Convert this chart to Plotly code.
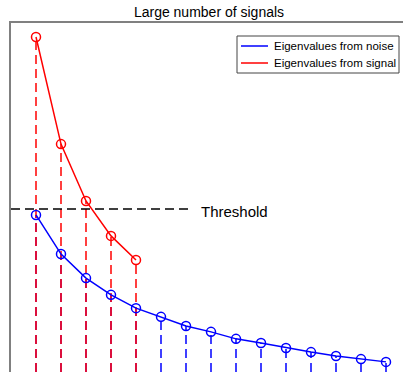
import plotly.graph_objects as go

# Eigenvalue index and sorted eigenvalues
idx_noise = list(range(1, 16))
eig_noise = [4.50, 3.38, 2.69, 2.21, 1.83, 1.58, 1.32, 1.15, 0.95, 0.83, 0.69, 0.57, 0.46, 0.37, 0.29]
idx_signal = [1, 2, 3, 4, 5]
eig_signal = [9.60, 6.53, 4.90, 3.90, 3.21]
threshold = 4.67
threshold_extent = [0, 7.08]
legend_labels = ["Eigenvalues from noise", "Eigenvalues from signal"]

y_min, y_max = 0, 10
x_min, x_max = 0, 15.68

BLUE = "#0000ff"
RED = "#ff0000"
OVERLAP = "#e0103e"
FONT = "Liberation Sans, Arial, Helvetica, sans-serif"
STEM_DASH = "9px,5px"

W, H = 403, 372
ML, MR, MT, MB = 11, 0, 23, 0
PW, PH = W - ML - MR, H - MT - MB


def px(x):
    return (x - ML) / PW


def py(y):
    return (H - MB - y) / PH


def stem_xy(xs, ys, base):
    sx, sy = [], []
    for x, y in zip(xs, ys):
        sx += [x, x, None]
        sy += [base, y, None]
    return sx, sy


fig = go.Figure()

# stems rise from the baseline so dashes line up across overlapping stems
sx, sy = stem_xy(idx_noise, eig_noise, y_min)
fig.add_trace(go.Scatter(x=sx, y=sy, mode="lines", showlegend=False, hoverinfo="skip",
                         line=dict(color=BLUE, width=1.5, dash=STEM_DASH)))
sx, sy = stem_xy(idx_signal, eig_signal, y_min)
fig.add_trace(go.Scatter(x=sx, y=sy, mode="lines", showlegend=False, hoverinfo="skip",
                         line=dict(color=RED, width=1.5, dash=STEM_DASH)))
sx, sy = stem_xy(idx_signal, eig_noise[:len(idx_signal)], y_min)
fig.add_trace(go.Scatter(x=sx, y=sy, mode="lines", showlegend=False, hoverinfo="skip",
                         line=dict(color=OVERLAP, width=1.5, dash=STEM_DASH)))

fig.add_trace(go.Scatter(x=threshold_extent, y=[threshold, threshold], mode="lines",
                         showlegend=False, hoverinfo="skip",
                         line=dict(color="black", width=1.5, dash="9px,5px")))

fig.add_trace(go.Scatter(x=idx_noise, y=eig_noise, mode="lines+markers",
                         name=legend_labels[0], showlegend=False,
                         line=dict(color=BLUE, width=1.5),
                         marker=dict(symbol="circle-open", size=9, color=BLUE,
                                     line=dict(color=BLUE, width=1.5))))
fig.add_trace(go.Scatter(x=idx_signal, y=eig_signal, mode="lines+markers",
                         name=legend_labels[1], showlegend=False,
                         line=dict(color=RED, width=1.5),
                         marker=dict(symbol="circle-open", size=9, color=RED,
                                     line=dict(color=RED, width=1.5))))

fig.add_annotation(x=7.52, y=threshold - 0.06, text="Threshold", showarrow=False,
                   xanchor="left", yanchor="middle",
                   font=dict(family=FONT, size=15, color="black"))

# legend box drawn in paper coordinates
shapes = [dict(type="rect", xref="paper", yref="paper",
               x0=px(237), x1=px(399), y0=py(73), y1=py(36),
               line=dict(color="#444444", width=1), fillcolor="white", layer="above")]
for label, color, row_y in zip(legend_labels, [BLUE, RED], [46, 63]):
    shapes.append(dict(type="line", xref="paper", yref="paper",
                       x0=px(241), x1=px(268), y0=py(row_y), y1=py(row_y),
                       line=dict(color=color, width=1.5), layer="above"))
    fig.add_annotation(xref="paper", yref="paper", x=px(272), y=py(row_y),
                       text=label, showarrow=False, xanchor="left", yanchor="middle",
                       font=dict(family=FONT, size=11.5, color="black"))

axis_common = dict(showgrid=False, zeroline=False, showticklabels=False, ticks="",
                   showline=True, linecolor="#808080", linewidth=1.5)

fig.update_layout(
    width=W, height=H,
    margin=dict(l=ML, r=MR, t=MT, b=MB, autoexpand=False),
    paper_bgcolor="white", plot_bgcolor="white",
    font=dict(family=FONT, color="black"),
    title=dict(text="Large number of signals", x=209 / W, xref="container", xanchor="center",
               y=1 - 12 / H, yref="container", yanchor="middle",
               font=dict(family=FONT, size=14, color="black")),
    xaxis=dict(range=[x_min, x_max], side="top", **axis_common),
    yaxis=dict(range=[y_min, y_max], **axis_common),
    shapes=shapes,
    showlegend=False,
)

fig.write_html("out.html")
